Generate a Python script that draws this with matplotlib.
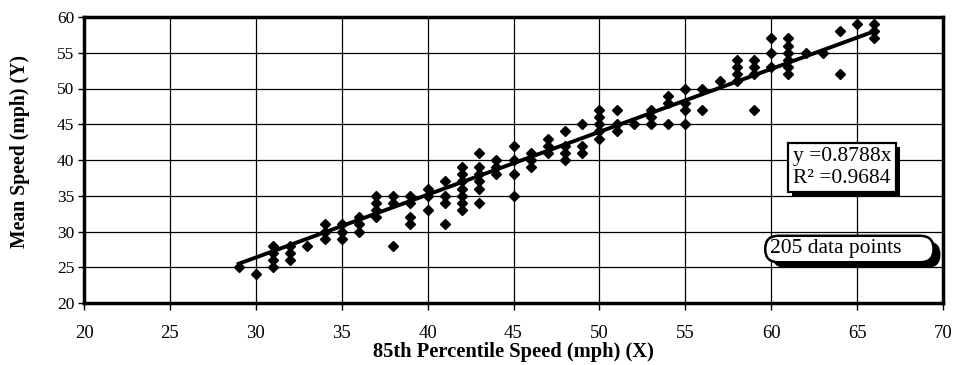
import matplotlib
matplotlib.use("Agg")
import matplotlib.pyplot as plt
import matplotlib.patheffects as pe
from matplotlib.patches import FancyBboxPatch
import numpy as np

# 85th percentile speed (X) and mean speed (Y), mph
speed85 = [29, 30,
           31, 31, 31, 31, 32, 32, 32, 33,
           34, 34, 34, 35, 35, 35, 36, 36, 36,
           37, 37, 37, 37, 38, 38, 38, 39, 39, 39, 39,
           40, 40, 40, 41, 41, 41, 41,
           42, 42, 42, 42, 42, 42, 42,
           43, 43, 43, 43, 43, 43, 44, 44, 44,
           45, 45, 45, 45, 46, 46, 46, 47, 47, 47,
           48, 48, 48, 48, 49, 49, 49,
           50, 50, 50, 50, 50, 51, 51, 51, 52, 53, 53, 53,
           54, 54, 54, 55, 55, 55, 55, 56, 56, 57,
           58, 58, 58, 58, 59, 59, 59, 59, 60, 60, 60,
           61, 61, 61, 61, 61, 61, 62, 63, 64, 64, 65, 66, 66, 66]
mean_speed = [25, 24,
              25, 26, 27, 28, 26, 27, 28, 28,
              29, 30, 31, 29, 30, 31, 30, 31, 32,
              32, 33, 34, 35, 28, 34, 35, 31, 32, 34, 35,
              33, 35, 36, 31, 34, 35, 37,
              33, 34, 35, 36, 37, 38, 39,
              34, 36, 37, 38, 39, 41, 38, 39, 40,
              35, 38, 40, 42, 39, 40, 41, 41, 42, 43,
              40, 41, 42, 44, 41, 42, 45,
              43, 44, 45, 46, 47, 44, 45, 47, 45, 45, 46, 47,
              45, 48, 49, 45, 47, 48, 50, 47, 50, 51,
              51, 52, 53, 54, 47, 52, 53, 54, 53, 55, 57,
              52, 53, 54, 55, 56, 57, 55, 55, 52, 58, 59, 57, 58, 59]

slope = 0.8788
r_squared = 0.9684
n_points = 205
x_ticks = [20, 25, 30, 35, 40, 45, 50, 55, 60, 65, 70]
y_ticks = [20, 25, 30, 35, 40, 45, 50, 55, 60]

plt.rcParams['font.family'] = ['Liberation Serif', 'DejaVu Serif']

W, H = 954, 365
fig = plt.figure(figsize=(W / 100, H / 100), dpi=100)
ax_l, ax_b, ax_w, ax_h = 84 / W, 1 - 303 / H, 859 / W, 286 / H
ax = fig.add_axes([ax_l, ax_b, ax_w, ax_h])

ax.set_xlim(20, 70)
ax.set_ylim(20, 60)
ax.set_xticks(x_ticks)
ax.set_yticks(y_ticks)
ax.grid(True, color='black', linewidth=0.9)
ax.set_axisbelow(True)
for s in ax.spines.values():
    s.set_linewidth(2.5)
    s.set_color('black')
ax.tick_params(axis='both', direction='out', width=1, colors='black')
ax.tick_params(axis='x', length=5, pad=11, labelsize=13.5)
ax.tick_params(axis='y', length=4, pad=3, labelsize=12.5)

ax.plot(speed85, mean_speed, linestyle='none', marker='D', markersize=5.2,
        color='black', zorder=3)

xs = np.array([min(speed85), max(speed85)])
ax.plot(xs, slope * xs, color='black', linewidth=2.8, zorder=4)

ax.set_xlabel('85th Percentile Speed (mph) (X)', fontsize=14.8, fontweight='bold',
              va='center')
ax.xaxis.set_label_coords(0.5, (303 - 352) / 286)
ax.set_ylabel('Mean Speed (mph) (Y)', fontsize=14.2, fontweight='bold', va='center')
ax.yaxis.set_label_coords((20 - 84) / 859, (303 - 152) / 286)

# equation box
t1 = ax.text(64.13, 38.95, f'y =0.{int(round(slope*10000)):04d}x\nR\u00b2 ={r_squared:.4f}',
             fontsize=15.5, ha='center', va='center', linespacing=1.15, zorder=5,
             bbox=dict(boxstyle='square,pad=0.22', facecolor='white',
                       edgecolor='black', linewidth=1.6))
t1.get_bbox_patch().set_path_effects([
    pe.SimplePatchShadow(offset=(3, -3), shadow_rgbFace='black', alpha=1.0),
    pe.Normal()])

# "205 data points" rounded bubble
px_per_x = 859 / 50.0
px_per_y = 286 / 40.0
aspect = px_per_x / px_per_y
x0, x1 = 59.65, 69.45
y0, y1 = 25.7, 29.4
bubble = FancyBboxPatch((x0, y0), x1 - x0, y1 - y0,
                        boxstyle='round,pad=0,rounding_size=0.77',
                        mutation_aspect=aspect, facecolor='white',
                        edgecolor='black', linewidth=1.8, zorder=5)
bubble.set_path_effects([
    pe.SimplePatchShadow(offset=(5, -4), shadow_rgbFace='black', alpha=1.0),
    pe.Normal()])
ax.add_patch(bubble)
ax.text(59.93, 27.65, f'{n_points} data points', fontsize=15.5, ha='left',
        va='center', zorder=6)

fig.savefig('out.png', dpi=100, facecolor='white')
